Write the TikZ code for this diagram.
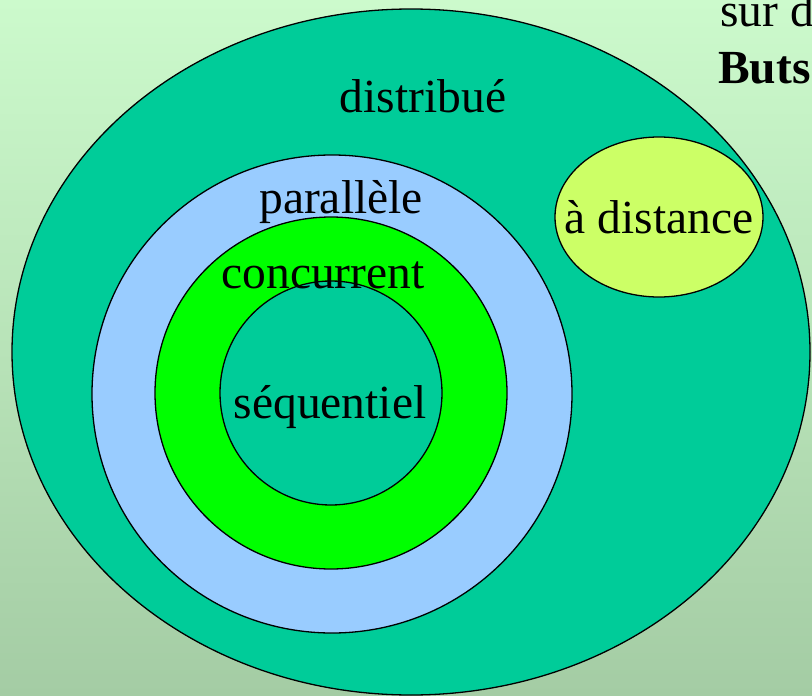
\documentclass[tikz,border=0pt]{standalone}
\usepackage{fontspec}
\setmainfont{Liberation Serif}
\definecolor{bgtop}{RGB}{204,250,204}
\definecolor{bgbot}{RGB}{164,204,164}
\definecolor{distcol}{RGB}{0,204,153}
\definecolor{parcol}{RGB}{153,204,255}
\definecolor{conccol}{RGB}{0,255,0}
\definecolor{remcol}{RGB}{204,255,102}
\begin{document}
\begin{tikzpicture}[x=1pt,y=-1pt,font=\fontsize{47.5}{56}\selectfont]
  \useasboundingbox (0,0) rectangle (812,696);
  \clip (0,0) rectangle (812,696);
  \shade[top color=bgtop,bottom color=bgbot] (0,0) rectangle (812,696);
  % nested ellipses
  \draw[line width=1.3pt,fill=distcol] (411,352) ellipse [x radius=399,y radius=343];
  \draw[line width=1.3pt,fill=parcol] (332,394) ellipse [x radius=240,y radius=239];
  \draw[line width=1.3pt,fill=conccol] (331,393) ellipse [x radius=176,y radius=176];
  \draw[line width=1.3pt,fill=distcol] (331,393) ellipse [x radius=111,y radius=112];
  \draw[line width=1.3pt,fill=remcol] (659,217) ellipse [x radius=104,y radius=80];
  % labels
  \node[anchor=base] (distribue) at (423,112) {distribué};
  \node[anchor=base] (parallele) at (341,213) {parallèle};
  \node[anchor=base] (concurrent) at (323,288) {concurrent};
  \node[anchor=base] (sequentiel) at (330,418) {séquentiel};
  \node[anchor=base] (distance) at (659,233) {à distance};
  % slide text cut off on the right
  \node[anchor=base west,inner sep=0pt] (surd) at (720,27) {sur d};
  \node[anchor=base west,inner sep=0pt,font=\fontsize{47.5}{56}\selectfont\bfseries] (buts) at (718,83) {Buts};
\end{tikzpicture}
\end{document}
